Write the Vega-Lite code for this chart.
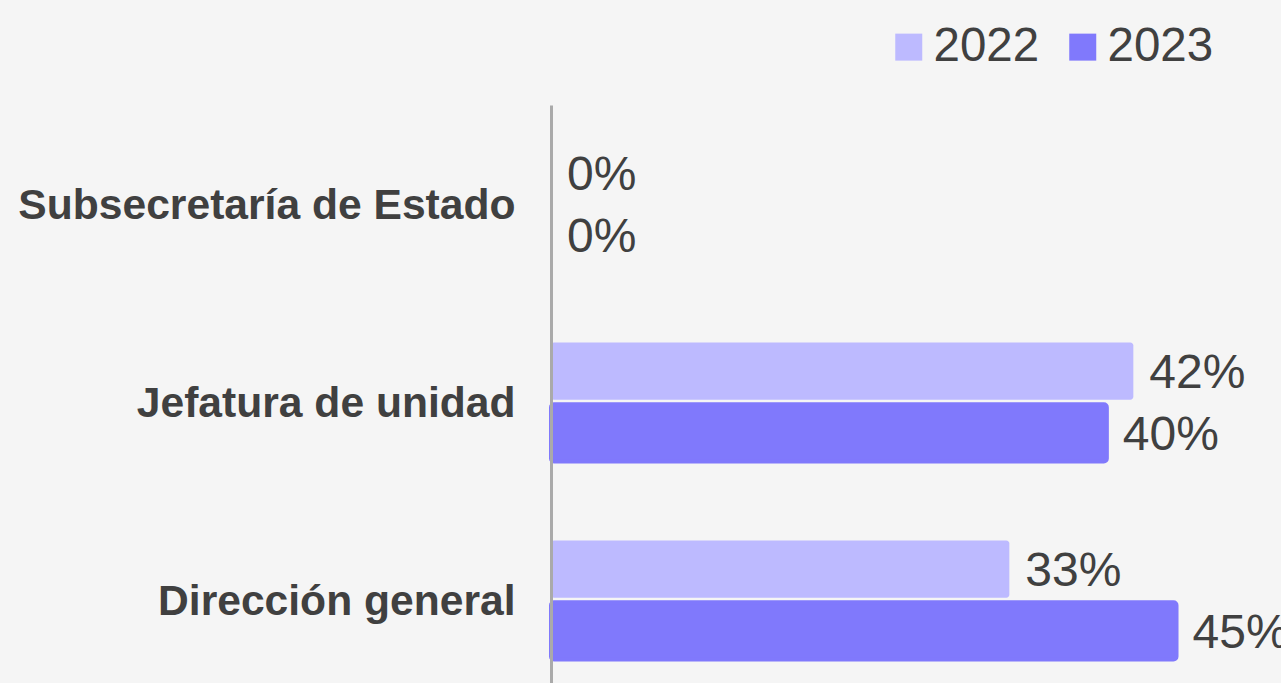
{
  "$schema": "https://vega.github.io/schema/vega-lite/v6.json",
  "width": 730,
  "height": 594,
  "autosize": {"type": "none"},
  "padding": {"left": 551, "top": 105, "right": 0, "bottom": 0},
  "background": "#f5f5f5",
  "config": {"view": {"stroke": null}, "font": "Liberation Sans"},
  "data": {
    "values": [
      {"cat": "Subsecretaría de Estado", "year": "2022", "value": 0},
      {"cat": "Subsecretaría de Estado", "year": "2023", "value": 0},
      {"cat": "Jefatura de unidad", "year": "2022", "value": 0.418},
      {"cat": "Jefatura de unidad", "year": "2023", "value": 0.399},
      {"cat": "Dirección general", "year": "2022", "value": 0.329},
      {"cat": "Dirección general", "year": "2023", "value": 0.449}
    ]
  },
  "encoding": {
    "y": {
      "field": "cat",
      "type": "nominal",
      "sort": ["Subsecretaría de Estado", "Jefatura de unidad", "Dirección general"],
      "scale": {"paddingInner": 0.4, "paddingOuter": 0.2},
      "axis": {
        "title": null,
        "ticks": false,
        "labelFont": "Liberation Sans",
        "labelFontWeight": "bold",
        "labelFontSize": 42.6,
        "labelColor": "#404040",
        "labelPadding": 36,
        "labelOffset": 2,
        "labelLimit": 0,
        "domainColor": "#aaaaaa",
        "domainWidth": 3,
        "zindex": 1
      }
    },
    "yOffset": {"field": "year", "type": "nominal", "scale": {"paddingInner": 0.075}},
    "x": {"field": "value", "type": "quantitative", "stack": null, "scale": {"domain": [0, 0.524]}, "axis": null}
  },
  "layer": [
    {
      "mark": {"type": "bar", "cornerRadius": 3},
      "encoding": {
        "color": {
          "field": "year",
          "type": "nominal",
          "scale": {"domain": ["2022", "2023"], "range": ["#bdbaff", "#8079fc"]},
          "legend": {
            "orient": "none",
            "legendX": 334,
            "legendY": -82,
            "direction": "horizontal",
            "title": null,
            "labelFont": "Liberation Sans",
            "labelFontSize": 47.5,
            "labelColor": "#404040",
            "symbolType": "square",
            "symbolSize": 729,
            "symbolStrokeWidth": 0,
            "labelOffset": 1,
            "columnPadding": 19,
            "encode": {
              "symbols": {
                "update": {
                  "size": {"signal": "datum.label === '2023' ? 950 : 729"}
                }
              }
            }
          }
        },
        "stroke": {"condition": {"test": "datum.year === '2023'", "value": "#8079fc"}, "value": "transparent"},
        "strokeWidth": {"condition": {"test": "datum.value > 0", "value": 4}, "value": 0}
      }
    },
    {
      "mark": {"type": "text", "align": "left", "baseline": "middle", "dx": 16, "dy": 3, "fontSize": 48, "color": "#404040", "font": "Liberation Sans"},
      "encoding": {"text": {"field": "value", "format": ".0%"}}
    }
  ]
}
